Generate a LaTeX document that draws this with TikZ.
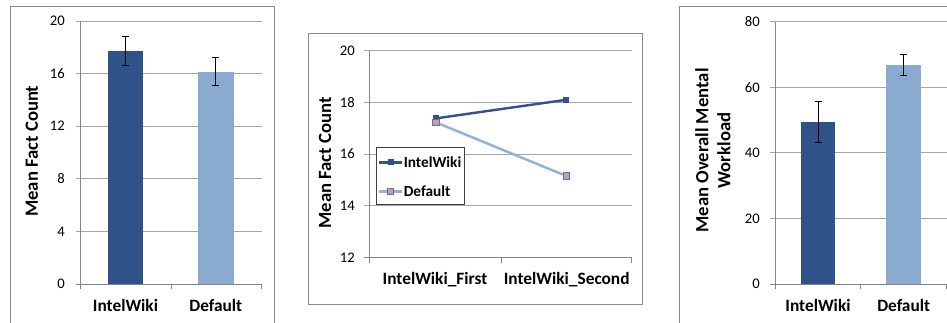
\documentclass[tikz,border=0pt]{standalone}
\usepackage{fontspec}
\setmainfont{Carlito}
\definecolor{wikidark}{RGB}{47,82,136}
\definecolor{wikilight}{RGB}{138,170,208}
\definecolor{linedark}{RGB}{46,82,146}
\definecolor{linelight}{RGB}{143,176,218}
\definecolor{gridgray}{RGB}{166,166,166}
\definecolor{framegray}{RGB}{140,140,140}
\definecolor{markred}{RGB}{192,80,77}

\begin{document}
\begin{tikzpicture}[x=0.75pt,y=-0.75pt,
  chart frame/.style={draw=framegray,line width=0.75pt},
  grid line/.style={draw=gridgray,line width=0.75pt},
  axis line/.style={draw=gridgray!80!black,line width=0.75pt},
  tick label/.style={font=\fontsize{11}{13}\selectfont,inner sep=0pt,anchor=east},
  cat label/.style={font=\fontsize{13}{15}\selectfont\bfseries,inner sep=0pt},
  axis title/.style={font=\fontsize{14}{16.5}\selectfont\bfseries,inner sep=0pt,rotate=90,align=center},
  dark bar/.style={fill=wikidark},
  light bar/.style={fill=wikilight},
  err bar/.style={draw=black,line width=0.6pt},
  iw line/.style={draw=linedark,line width=1.8pt},
  def line/.style={draw=linelight,line width=1.8pt},
  iw mark/.style={rectangle,fill=linedark,inner sep=0pt,minimum size=4.5pt},
  def mark/.style={rectangle,fill=linelight,draw=markred,line width=0.6pt,inner sep=0pt,minimum size=4.8pt},
  legend label/.style={font=\fontsize{11.5}{13}\selectfont\bfseries,inner sep=0pt,anchor=west}]

 \clip (0,0) rectangle (947,322);

 % left chart: fact count per condition
 \draw[chart frame] (10,340) -- (10,6) -- (274,6) -- (274,340);
 \begin{scope}[shift={(0,284)},y=9.8625pt]
  \foreach \v in {4,8,...,20}
    \draw[grid line] (75.5,\v) -- (262,\v);
  \foreach \v in {0,4,...,20}
    \node[tick label] (fa\v) at (65,\v) {\v};
  \draw[axis line] (75.5,0) -- (262,0);
  \draw[axis line] (80.7,0) -- (80.7,20);
  \foreach \x in {80.7,171,261}
    \draw[axis line] (\x,0) -- (\x,-0.4);
  \fill[dark bar] (107.7,0) rectangle (143.3,17.75);
  \fill[light bar] (198,0) rectangle (233.7,16.15);
  \draw[err bar] (125.5,16.65) -- (125.5,18.85)
    (122,16.65) -- (129,16.65) (122,18.85) -- (129,18.85);
  \draw[err bar] (215.8,15.1) -- (215.8,17.2)
    (212.3,15.1) -- (219.3,15.1) (212.3,17.2) -- (219.3,17.2);
  \node[cat label] (fa iw) at (125.5,-1.65) {IntelWiki};
  \node[cat label] (fa def) at (215.8,-1.65) {Default};
  \node[axis title] (fa title) at (31.7,10.1) {Mean Fact Count};
 \end{scope}

 % middle chart: fact count by order
 \draw[chart frame] (308.3,33.3) rectangle (642.3,304);
 \begin{scope}[shift={(0,567.26)},y=19.37pt]
  \foreach \v in {14,16,18,20}
    \draw[grid line] (364,\v) -- (631.7,\v);
  \foreach \v in {12,14,...,20}
    \node[tick label] (fb\v) at (355,\v) {\v};
  \draw[axis line] (364,12) -- (631.7,12);
  \draw[axis line] (369.3,12) -- (369.3,20);
  \foreach \x in {369.3,501.3,631.7}
    \draw[axis line] (\x,12) -- (\x,11.8);
  \node[iw mark] (iw1) at (435.7,17.38) {};
  \node[iw mark] (iw2) at (566.3,18.1) {};
  \node[def mark] (def1) at (435.7,17.23) {};
  \node[def mark] (def2) at (566.3,15.15) {};
  \draw[def line] (def1) -- (def2);
  \draw[iw line] (iw1) -- (iw2);
  \node[iw mark] at (iw1) {};
  \node[def mark] at (def1) {};
  \node[cat label] (fb first) at (435,11.13) {IntelWiki\_First};
  \node[cat label] (fb second) at (566.7,11.13) {IntelWiki\_Second};
  \node[axis title] (fb title) at (325,15.65) {Mean Fact Count};
 \end{scope}

 % legend of the middle chart
 \node[draw=black!75,fill=white,line width=0.75pt,minimum width=66pt,minimum height=42.75pt,inner sep=0pt]
   (legend) at (420.3,175.5) {};
 \coordinate (lg iw a) at (379.3,162.3);
 \coordinate (lg iw b) at (401.7,162.3);
 \coordinate (lg def a) at (379.3,191.3);
 \coordinate (lg def b) at (401.7,191.3);
 \draw[iw line] (lg iw a) -- (lg iw b);
 \draw[def line] (lg def a) -- (lg def b);
 \node[iw mark] (lg iw) at (390.5,162.3) {};
 \node[def mark] (lg def) at (390.5,191.3) {};
 \node[legend label] (lg iw text) at (403.5,162.3) {IntelWiki};
 \node[legend label] (lg def text) at (403.5,191.3) {Default};

 % right chart: mental workload per condition
 \draw[chart frame] (679.3,340) -- (679.3,6) -- (960,6);
 \begin{scope}[shift={(0,284)},y=2.46pt]
  \foreach \v in {20,40,...,80}
    \draw[grid line] (770,\v) -- (960,\v);
  \foreach \v in {0,20,...,80}
    \node[tick label] (fc\v) at (760,\v) {\v};
  \draw[axis line] (770,0) -- (960,0);
  \draw[axis line] (775,0) -- (775,80);
  \foreach \x in {775,860.7,946}
    \draw[axis line] (\x,0) -- (\x,-1.6);
  \fill[dark bar] (801,0) rectangle (835,49.5);
  \fill[light bar] (886.3,0) rectangle (921,66.8);
  \draw[err bar] (818,43.2) -- (818,55.6)
    (814.5,43.2) -- (821.5,43.2) (814.5,55.6) -- (821.5,55.6);
  \draw[err bar] (903.7,63.7) -- (903.7,69.9)
    (900.2,63.7) -- (907.2,63.7) (900.2,69.9) -- (907.2,69.9);
  \node[cat label] (fc iw) at (818,-6.6) {IntelWiki};
  \node[cat label] (fc def) at (903.7,-6.6) {Default};
  \node[axis title] (fc title) at (713,40.7) {Mean Overall Mental\\Workload};
 \end{scope}
\end{tikzpicture}
\end{document}
